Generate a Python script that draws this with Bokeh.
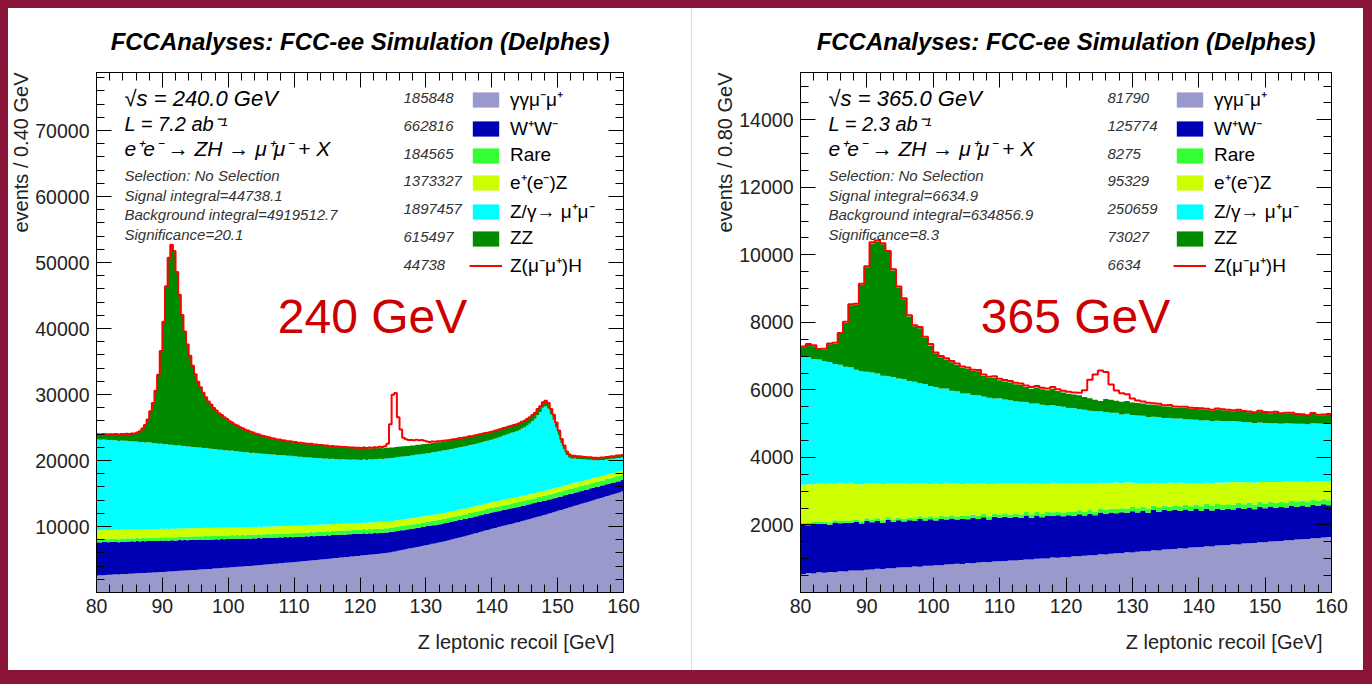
import numpy as np
from bokeh.plotting import figure
from bokeh.models import (Label, LinearAxis, SingleIntervalTicker, Range1d, Div,
                          Legend, LegendItem, PrintfTickFormatter, Title)
from bokeh.layouts import row, column
from bokeh.embed import file_html
from bokeh.resources import INLINE

# ===================== DATA =====================
X_LO, X_HI = 80.0, 160.0
BW_240 = 0.4   # GeV per bin
BW_365 = 0.8

process_labels = ["γγμ⁻μ⁺", "W⁺W⁻", "Rare", "e⁺(e⁻)Z", "Z/γ→ μ⁺μ⁻", "ZZ", "Z(μ⁻μ⁺)H"]
process_colors = ["#9999CC", "#0000B4", "#33FF33", "#CCFF00", "#00FFFF", "#008A00", "#FF0000"]

yields_240 = ["185848", "662816", "184565", "1373327", "1897457", "615497", "44738"]
yields_365 = ["81790", "125774", "8275", "95329", "250659", "73027", "6634"]

info_240 = ["√s = 240.0 GeV", "L = 7.2 ab⁻¹", "e⁺e⁻ → ZH → μ⁺μ⁻ + X",
            "Selection: No Selection", "Signal integral=44738.1",
            "Background integral=4919512.7", "Significance=20.1"]
info_365 = ["√s = 365.0 GeV", "L = 2.3 ab⁻¹", "e⁺e⁻ → ZH → μ⁺μ⁻ + X",
            "Selection: No Selection", "Signal integral=6634.9",
            "Background integral=634856.9", "Significance=8.3"]

# ---- 240 GeV, 200 bins of 0.4 GeV (events per bin) ----
gg_240 = [
    2590, 2630, 2620, 2670, 2690, 2680, 2730, 2750, 2740, 2790,
    2810, 2800, 2850, 2860, 2880, 2910, 2900, 2950, 2960, 2990,
    3000, 3030, 3040, 3080, 3100, 3120, 3150, 3170, 3190, 3230,
    3240, 3280, 3300, 3320, 3350, 3370, 3400, 3410, 3450, 3470,
    3510, 3520, 3570, 3580, 3630, 3640, 3690, 3700, 3750, 3760,
    3800, 3840, 3850, 3900, 3910, 3950, 3970, 4010, 4030, 4070,
    4100, 4140, 4170, 4200, 4240, 4280, 4300, 4350, 4370, 4420,
    4450, 4490, 4520, 4550, 4590, 4620, 4660, 4690, 4730, 4760,
    4800, 4850, 4880, 4920, 4960, 5000, 5040, 5080, 5120, 5160,
    5210, 5230, 5290, 5310, 5370, 5390, 5450, 5470, 5530, 5550,
    5600, 5650, 5670, 5720, 5750, 5790, 5830, 5880, 5910, 5960,
    6010, 6070, 6170, 6230, 6330, 6390, 6490, 6550, 6650, 6710,
    6790, 6890, 6950, 7050, 7110, 7210, 7270, 7370, 7430, 7530,
    7610, 7690, 7810, 7890, 8010, 8090, 8210, 8290, 8410, 8490,
    8590, 8720, 8810, 8940, 9030, 9160, 9250, 9380, 9470, 9600,
    9710, 9790, 9910, 9990, 10110, 10190, 10310, 10390, 10510, 10590,
    10690, 10820, 10910, 11040, 11130, 11260, 11350, 11480, 11570, 11700,
    11790, 11930, 12030, 12170, 12270, 12410, 12510, 12650, 12750, 12890,
    12990, 13130, 13230, 13370, 13470, 13610, 13710, 13850, 13950, 14090,
    14190, 14330, 14430, 14570, 14670, 14810, 14910, 15050, 15150, 15290]
ww_240 = [
    5010, 4950, 5040, 4980, 4930, 5000, 4920, 4960, 4880, 4940,
    4890, 4940, 4860, 4900, 4830, 4880, 4820, 4860, 4790, 4830,
    4810, 4760, 4790, 4720, 4770, 4700, 4740, 4670, 4710, 4660,
    4640, 4680, 4600, 4630, 4570, 4610, 4540, 4580, 4510, 4550,
    4490, 4520, 4440, 4470, 4400, 4430, 4360, 4400, 4320, 4350,
    4290, 4320, 4240, 4270, 4200, 4230, 4160, 4190, 4120, 4150,
    4090, 4120, 4040, 4070, 4000, 4030, 3960, 3990, 3920, 3950,
    3890, 3920, 3840, 3870, 3800, 3830, 3760, 3790, 3720, 3750,
    3690, 3720, 3640, 3670, 3600, 3630, 3560, 3590, 3520, 3550,
    3490, 3520, 3440, 3470, 3400, 3430, 3360, 3390, 3320, 3350,
    3290, 3320, 3240, 3270, 3200, 3230, 3160, 3190, 3120, 3150,
    3090, 3120, 3040, 3070, 3000, 3030, 2960, 2990, 2920, 2950,
    2890, 2920, 2860, 2880, 2830, 2850, 2800, 2830, 2770, 2790,
    2740, 2770, 2710, 2730, 2680, 2700, 2650, 2680, 2620, 2640,
    2590, 2620, 2560, 2580, 2530, 2550, 2500, 2530, 2470, 2490,
    2440, 2470, 2410, 2430, 2380, 2400, 2350, 2380, 2320, 2340,
    2290, 2320, 2260, 2280, 2230, 2250, 2200, 2230, 2170, 2190,
    2140, 2170, 2110, 2130, 2080, 2100, 2050, 2080, 2020, 2040,
    1990, 2020, 1960, 1980, 1930, 1950, 1900, 1930, 1870, 1890,
    1840, 1870, 1810, 1830, 1780, 1800, 1750, 1780, 1720, 1740]
rare_240 = [
    450, 460, 440, 455, 465, 450, 470, 460, 455, 470,
    470, 480, 465, 475, 485, 470, 480, 490, 475, 485,
    485, 495, 480, 490, 500, 485, 495, 505, 490, 500,
    500, 510, 495, 505, 520, 505, 515, 525, 510, 520,
    520, 530, 515, 525, 535, 520, 530, 540, 525, 535,
    535, 545, 530, 540, 555, 540, 550, 560, 545, 555,
    555, 565, 550, 560, 570, 555, 565, 575, 560, 570,
    570, 580, 565, 575, 590, 575, 585, 595, 580, 590,
    590, 600, 585, 595, 605, 590, 600, 610, 595, 605,
    605, 615, 600, 610, 625, 610, 620, 630, 615, 625,
    625, 635, 620, 630, 640, 625, 635, 645, 630, 640,
    640, 650, 635, 645, 660, 645, 655, 665, 650, 660,
    660, 670, 655, 665, 675, 660, 670, 680, 665, 675,
    675, 685, 670, 680, 695, 680, 690, 700, 685, 695,
    695, 705, 690, 700, 710, 695, 705, 715, 700, 710,
    710, 720, 705, 715, 730, 715, 725, 735, 720, 730,
    730, 740, 725, 735, 745, 730, 740, 750, 735, 745,
    745, 755, 740, 750, 765, 750, 760, 770, 755, 765,
    765, 775, 760, 770, 780, 765, 775, 785, 770, 780,
    780, 790, 775, 785, 800, 785, 795, 805, 790, 800]
eez_240 = [
    1400, 1390, 1410, 1380, 1395, 1370, 1385, 1360, 1375, 1350,
    1365, 1345, 1360, 1340, 1350, 1330, 1345, 1325, 1340, 1320,
    1330, 1310, 1325, 1300, 1315, 1295, 1310, 1290, 1305, 1285,
    1295, 1275, 1290, 1265, 1280, 1260, 1270, 1250, 1265, 1245,
    1255, 1235, 1250, 1225, 1240, 1220, 1230, 1210, 1225, 1205,
    1215, 1195, 1210, 1185, 1200, 1180, 1195, 1175, 1190, 1170,
    1180, 1160, 1175, 1150, 1165, 1145, 1160, 1140, 1155, 1135,
    1145, 1125, 1140, 1115, 1130, 1110, 1120, 1100, 1115, 1095,
    1105, 1085, 1100, 1075, 1090, 1070, 1080, 1060, 1075, 1055,
    1065, 1045, 1060, 1035, 1050, 1030, 1045, 1025, 1040, 1020,
    1030, 1010, 1025, 1000, 1015, 995, 1010, 990, 1005, 985,
    995, 975, 990, 965, 980, 960, 970, 950, 965, 945,
    955, 935, 950, 925, 940, 920, 930, 910, 925, 905,
    915, 895, 910, 885, 900, 880, 895, 875, 890, 870,
    880, 860, 875, 850, 865, 845, 860, 840, 855, 835,
    845, 825, 840, 815, 830, 810, 820, 800, 815, 795,
    805, 785, 800, 775, 790, 770, 780, 760, 775, 755,
    765, 745, 760, 735, 750, 730, 745, 725, 740, 720,
    730, 710, 725, 700, 715, 695, 710, 690, 705, 685,
    695, 675, 690, 665, 680, 660, 670, 650, 665, 645]
zg_240 = [
    13750, 13700, 13690, 13650, 13640, 13600, 13580, 13560, 13520, 13500,
    13470, 13420, 13400, 13350, 13320, 13280, 13240, 13200, 13160, 13130,
    13090, 13030, 13000, 12940, 12900, 12850, 12800, 12750, 12710, 12650,
    12610, 12560, 12510, 12470, 12420, 12370, 12320, 12270, 12230, 12180,
    12130, 12080, 12030, 11990, 11940, 11890, 11840, 11800, 11750, 11700,
    11655, 11600, 11560, 11510, 11460, 11410, 11360, 11320, 11270, 11220,
    11170, 11130, 11080, 11040, 11000, 10950, 10910, 10870, 10830, 10780,
    10740, 10690, 10640, 10600, 10550, 10500, 10450, 10400, 10360, 10310,
    10260, 10220, 10170, 10130, 10090, 10050, 10000, 9960, 9920, 9880,
    9835, 9800, 9780, 9750, 9720, 9690, 9660, 9640, 9610, 9580,
    9550, 9560, 9540, 9560, 9550, 9570, 9550, 9570, 9560, 9570,
    9570, 9560, 9550, 9540, 9530, 9530, 9520, 9510, 9500, 9490,
    9490, 9490, 9480, 9480, 9480, 9470, 9470, 9470, 9470, 9465,
    9465, 9460, 9460, 9450, 9450, 9445, 9440, 9440, 9435, 9430,
    9430, 9440, 9440, 9450, 9460, 9460, 9470, 9480, 9490, 9490,
    9500, 9550, 9610, 9670, 9730, 9780, 9840, 9900, 9960, 10010,
    10075, 10180, 10340, 10495, 10705, 10960, 11270, 11675, 12085, 12590,
    12795, 12290, 11385, 10385, 9180, 7875, 6570, 5470, 4565, 4010,
    3810, 3670, 3540, 3400, 3270, 3140, 3010, 2870, 2740, 2610,
    2480, 2430, 2370, 2320, 2270, 2220, 2160, 2110, 2060, 2000]
zz_240 = [
    750, 780, 800, 790, 830, 850, 870, 880, 920, 950,
    980, 1020, 1060, 1120, 1200, 1350, 1600, 2000, 2600, 3400,
    4720, 6060, 7900, 10440, 13980, 18520, 23860, 28300, 30240, 29380,
    26220, 22760, 19800, 17340, 15380, 13720, 12260, 11000, 9940, 9080,
    8320, 7660, 7100, 6640, 6180, 5820, 5460, 5200, 4940, 4680,
    4420, 4210, 4000, 3840, 3680, 3520, 3360, 3250, 3140, 3030,
    2920, 2800, 2730, 2650, 2560, 2510, 2420, 2370, 2300, 2260,
    2210, 2180, 2160, 2150, 2110, 2100, 2070, 2060, 2030, 2020,
    2000, 1990, 1970, 1960, 1940, 1930, 1910, 1900, 1880, 1870,
    1860, 1840, 1830, 1810, 1800, 1780, 1770, 1750, 1740, 1730,
    1720, 1710, 1700, 1690, 1680, 1670, 1660, 1650, 1640, 1630,
    1620, 1610, 1600, 1590, 1570, 1560, 1550, 1540, 1520, 1510,
    1500, 1490, 1480, 1460, 1450, 1440, 1430, 1410, 1400, 1390,
    1380, 1370, 1350, 1340, 1330, 1320, 1300, 1290, 1280, 1270,
    1260, 1250, 1240, 1220, 1210, 1200, 1190, 1170, 1160, 1150,
    1140, 1120, 1110, 1090, 1080, 1060, 1050, 1030, 1020, 1000,
    990, 970, 950, 930, 910, 890, 870, 850, 830, 810,
    800, 780, 750, 720, 690, 650, 600, 550, 500, 450,
    420, 400, 390, 380, 370, 360, 360, 350, 350, 350,
    350, 350, 340, 350, 340, 350, 340, 350, 340, 350]
zh_240 = [
    30, 35, 30, 40, 35, 30, 40, 35, 40, 35,
    40, 35, 40, 45, 40, 35, 45, 40, 40, 45,
    40, 45, 40, 45, 50, 45, 40, 45, 50, 45,
    45, 50, 45, 40, 50, 45, 50, 45, 50, 45,
    50, 45, 50, 55, 45, 50, 55, 50, 45, 50,
    50, 55, 50, 55, 50, 55, 60, 50, 55, 60,
    55, 60, 55, 60, 55, 60, 65, 55, 60, 65,
    60, 65, 60, 65, 60, 70, 65, 60, 70, 65,
    65, 70, 65, 70, 75, 65, 70, 75, 70, 75,
    70, 75, 80, 70, 75, 80, 85, 80, 85, 90,
    90, 95, 100, 110, 115, 120, 130, 150, 170, 220,
    600, 3500, 8000, 8200, 4500, 2600, 1300, 1000, 900, 850,
    800, 750, 700, 650, 500, 350, 250, 200, 170, 150,
    140, 130, 120, 110, 100, 100, 90, 90, 80, 80,
    80, 75, 75, 70, 70, 70, 65, 65, 65, 60,
    60, 60, 60, 55, 55, 55, 55, 50, 50, 50,
    50, 50, 50, 45, 45, 45, 45, 45, 45, 40,
    40, 40, 40, 40, 40, 40, 35, 35, 35, 35,
    35, 35, 35, 35, 30, 30, 30, 30, 30, 30,
    30, 30, 30, 30, 30, 30, 30, 30, 30, 30]

# ---- 365 GeV, 100 bins of 0.8 GeV ----
gg_365 = [
    540, 575, 560, 600, 585, 610, 600, 630, 625, 650,
    655, 650, 675, 680, 700, 695, 720, 715, 740, 745,
    750, 770, 765, 790, 790, 810, 805, 830, 835, 850,
    845, 870, 865, 890, 900, 895, 920, 925, 935, 950,
    950, 960, 980, 975, 1000, 1005, 1010, 1035, 1030, 1050,
    1045, 1070, 1070, 1090, 1100, 1105, 1130, 1125, 1150, 1160,
    1165, 1190, 1185, 1210, 1220, 1225, 1250, 1245, 1270, 1280,
    1285, 1310, 1305, 1330, 1340, 1345, 1370, 1365, 1390, 1400,
    1405, 1430, 1425, 1450, 1460, 1465, 1490, 1485, 1510, 1520,
    1525, 1550, 1545, 1570, 1580, 1585, 1610, 1605, 1630, 1645]
ww_365 = [
    1460, 1420, 1480, 1430, 1450, 1400, 1470, 1420, 1440, 1410,
    1430, 1390, 1450, 1400, 1420, 1370, 1430, 1380, 1400, 1360,
    1390, 1350, 1410, 1340, 1380, 1320, 1370, 1330, 1360, 1310,
    1340, 1300, 1350, 1290, 1330, 1270, 1320, 1280, 1310, 1260,
    1290, 1250, 1300, 1240, 1280, 1220, 1270, 1230, 1260, 1210,
    1240, 1200, 1250, 1190, 1230, 1180, 1240, 1200, 1220, 1190,
    1210, 1170, 1220, 1160, 1200, 1140, 1190, 1150, 1170, 1130,
    1160, 1110, 1150, 1090, 1130, 1070, 1110, 1060, 1090, 1050,
    1070, 1030, 1080, 1020, 1060, 1000, 1050, 1010, 1040, 990,
    1010, 970, 1020, 960, 1000, 950, 990, 960, 980, 940]
rare_365 = [
    60, 62, 64, 64, 66, 66, 68, 68, 70, 70,
    70, 72, 74, 74, 76, 76, 78, 78, 80, 80,
    80, 82, 84, 84, 86, 86, 88, 88, 90, 90,
    90, 92, 94, 94, 96, 96, 98, 98, 100, 100,
    100, 102, 104, 104, 106, 106, 108, 108, 110, 110,
    110, 112, 114, 114, 116, 116, 118, 118, 120, 120,
    120, 122, 124, 124, 126, 126, 128, 128, 130, 130,
    130, 132, 134, 134, 136, 136, 138, 138, 140, 140,
    140, 141, 142, 142, 143, 143, 144, 144, 145, 145,
    145, 146, 147, 147, 148, 148, 149, 149, 150, 150]
eez_365 = [
    1130, 1150, 1100, 1140, 1120, 1160, 1080, 1130, 1090, 1120,
    1060, 1090, 1030, 1080, 1040, 1070, 1000, 1060, 1010, 1050,
    1000, 1030, 970, 1020, 960, 1010, 950, 1000, 940, 990,
    940, 980, 910, 960, 900, 950, 880, 940, 890, 920,
    890, 920, 860, 900, 850, 890, 830, 880, 840, 870,
    830, 860, 800, 840, 780, 830, 760, 800, 750, 790,
    740, 780, 720, 750, 700, 740, 680, 720, 670, 710,
    670, 700, 650, 690, 640, 680, 630, 670, 640, 660,
    640, 670, 620, 650, 600, 640, 590, 630, 580, 620,
    590, 620, 570, 600, 550, 590, 540, 580, 530, 560]
zg_365 = [
    3800, 3760, 3710, 3670, 3630, 3590, 3550, 3500, 3460, 3420,
    3380, 3350, 3310, 3280, 3250, 3210, 3180, 3150, 3110, 3080,
    3045, 3010, 2970, 2940, 2900, 2860, 2830, 2790, 2750, 2720,
    2680, 2650, 2630, 2610, 2580, 2560, 2530, 2510, 2480, 2460,
    2435, 2420, 2400, 2380, 2360, 2340, 2320, 2300, 2280, 2260,
    2240, 2220, 2200, 2180, 2160, 2140, 2120, 2100, 2080, 2060,
    2040, 2030, 2010, 2000, 1990, 1970, 1960, 1950, 1930, 1920,
    1910, 1900, 1890, 1880, 1870, 1860, 1850, 1840, 1830, 1830,
    1820, 1810, 1800, 1790, 1780, 1770, 1760, 1750, 1740, 1740,
    1730, 1730, 1720, 1720, 1720, 1710, 1720, 1710, 1710, 1710]
zz_365 = [
    270, 360, 380, 275, 335, 525, 595, 910, 1300, 1840,
    1925, 2560, 3090, 3825, 3905, 3890, 3675, 3155, 2690, 2370,
    1910, 1645, 1630, 1365, 1200, 990, 925, 860, 845, 780,
    760, 735, 710, 705, 605, 580, 615, 530, 535, 530,
    500, 500, 445, 435, 475, 455, 455, 480, 450, 420,
    420, 400, 405, 375, 365, 335, 305, 390, 390, 360,
    375, 380, 370, 365, 360, 365, 350, 350, 335, 340,
    315, 315, 335, 315, 315, 335, 315, 310, 330, 320,
    305, 290, 320, 300, 295, 295, 320, 300, 295, 315,
    285, 280, 300, 270, 260, 250, 290, 240, 250, 260]
zh_365 = [
    25, 30, 25, 30, 30, 25, 30, 30, 35, 30,
    30, 35, 30, 35, 30, 35, 30, 35, 35, 30,
    35, 30, 35, 35, 40, 35, 35, 40, 35, 40,
    40, 35, 40, 40, 45, 40, 40, 45, 40, 45,
    45, 40, 45, 50, 45, 50, 50, 55, 50, 55,
    60, 60, 80, 200, 550, 750, 900, 800, 450, 300,
    250, 200, 120, 80, 60, 50, 45, 45, 40, 40,
    40, 35, 35, 35, 30, 30, 30, 30, 30, 30,
    30, 30, 25, 25, 25, 25, 25, 25, 25, 25,
    25, 25, 25, 20, 20, 20, 20, 20, 20, 20]

# ===================== LAYOUT CONSTANTS (page pixels) =====================
BORDER = "#8B1538"
PAGE_TOP = 8
PANEL_H = 662
FONT = "Liberation Sans"
TXT = "#222222"


def step_xy(edges, vals):
    xs = np.repeat(edges, 2)[1:-1]
    ys = np.repeat(np.asarray(vals, dtype=float), 2)
    return xs, ys


def build_panel(panel_x0, width, fl, fr, ft, fb, ymax, ytick, yminor, bw,
                comps, sig, ytitle, info, yields, big_text, big_xy):
    p = figure(width=width, height=PANEL_H, title=None,
               x_range=Range1d(X_LO, X_HI), y_range=Range1d(0, ymax),
               output_backend="svg", toolbar_location=None,
               min_border_left=fl - panel_x0, min_border_right=panel_x0 + width - fr,
               min_border_top=ft - PAGE_TOP, min_border_bottom=PAGE_TOP + PANEL_H - fb)
    p.background_fill_color = "white"
    p.border_fill_color = "white"
    p.outline_line_color = "black"
    p.outline_line_width = 1
    p.xgrid.visible = False
    p.ygrid.visible = False

    def to_data(px, py):
        x = X_LO + (px - fl) / (fr - fl) * (X_HI - X_LO)
        y = (fb - py) / (fb - ft) * ymax
        return x, y

    n = len(comps[0])
    edges = X_LO + bw * np.arange(n + 1)
    xs, _ = step_xy(edges, comps[0])
    cum = np.zeros(n)
    renderers = []
    for comp, col in zip(comps, process_colors[:6]):
        top = cum + np.asarray(comp, dtype=float)
        r = p.varea(x=xs, y1=np.repeat(cum, 2), y2=np.repeat(top, 2),
                    fill_color=col, fill_alpha=1.0)
        renderers.append(r)
        cum = top
    sig_top = cum + np.asarray(sig, dtype=float)
    r_sig = p.line(xs, np.repeat(sig_top, 2), line_color=process_colors[6], line_width=2)
    renderers.append(r_sig)

    # axes
    def style_axis(ax, labels=True):
        ax.major_tick_in = 15
        ax.major_tick_out = 0
        ax.minor_tick_in = 8
        ax.minor_tick_out = 0
        ax.axis_line_color = "black"
        ax.major_tick_line_color = "black"
        ax.minor_tick_line_color = "black"
        if labels:
            ax.major_label_text_font = FONT
            ax.major_label_text_font_size = "19.5px"
            ax.major_label_text_color = TXT
        else:
            ax.formatter = PrintfTickFormatter(format="")
            ax.major_label_text_font_size = "1px"
            ax.major_label_standoff = 0

    p.xaxis[0].ticker = SingleIntervalTicker(interval=10, num_minor_ticks=5)
    p.yaxis[0].ticker = SingleIntervalTicker(interval=ytick, num_minor_ticks=yminor)
    style_axis(p.xaxis[0])
    style_axis(p.yaxis[0])
    p.xaxis[0].major_label_standoff = 6
    p.yaxis[0].major_label_standoff = 7
    p.yaxis[0].major_label_overrides = {0: ""}
    ax_r = LinearAxis(ticker=SingleIntervalTicker(interval=ytick, num_minor_ticks=yminor))
    style_axis(ax_r, labels=False)
    p.add_layout(ax_r, "right")
    ax_t = LinearAxis(ticker=SingleIntervalTicker(interval=10, num_minor_ticks=5))
    style_axis(ax_t, labels=False)
    p.add_layout(ax_t, "above")

    # title and axis titles (outermost side panels)
    p.add_layout(Title(text="FCCAnalyses: FCC-ee Simulation (Delphes)", align="center",
                       text_font=FONT, text_font_size="24px", text_font_style="bold italic",
                       text_color="black", standoff=34, vertical_align="middle"), "above")
    p.add_layout(Title(text=ytitle, align="right", offset=0,
                       text_font=FONT, text_font_size="20px", text_font_style="normal",
                       text_color=TXT, standoff=0, vertical_align="middle"), "left")
    p.add_layout(Title(text="Z leptonic recoil [GeV]", align="right", offset=9,
                       text_font=FONT, text_font_size="20px", text_font_style="normal",
                       text_color=TXT, standoff=28, vertical_align="middle"), "below")

    # info block
    info_rows = [(98, "22px", "black"), (123, "20px", "black"), (148, "21px", "black"),
                 (175, "15px", "#333333"), (194.5, "15px", "#333333"),
                 (214, "15px", "#333333"), (233.5, "15px", "#333333")]
    for txt, (py, fs, col) in zip(info, info_rows):
        ix, iy = to_data(fl + 28, py)
        p.add_layout(Label(x=ix, y=iy, text=txt, text_font=FONT, text_font_size=fs,
                           text_font_style="italic", text_color=col,
                           text_align="left", text_baseline="middle"))

    # legend yields
    for i, yv in enumerate(yields):
        nx, ny = to_data(fl + 307, 97.5 + 27.8 * i)
        p.add_layout(Label(x=nx, y=ny, text=yv, text_font=FONT, text_font_size="15px",
                           text_font_style="italic", text_color="#333333",
                           text_align="left", text_baseline="middle"))

    # legend
    items = [LegendItem(label=lab, renderers=[r]) for lab, r in zip(process_labels, renderers)]
    leg = Legend(items=items, location=(373, fb - 278), orientation="vertical",
                 glyph_width=33, glyph_height=19, label_height=19, spacing=3,
                 label_standoff=8, padding=0, margin=0,
                 label_text_font=FONT, label_text_font_size="19px", label_text_color="black",
                 background_fill_alpha=0, border_line_alpha=0)
    p.add_layout(leg)

    # big energy label
    gx, gy = to_data(*big_xy)
    p.add_layout(Label(x=gx, y=gy, text=big_text, text_font=FONT, text_font_size="48px",
                       text_color="#CC0000", text_align="center", text_baseline="middle"))
    return p


p1 = build_panel(8, 683, 96, 623, 72, 592, 78800, 10000, 5, BW_240,
                 [gg_240, ww_240, rare_240, eez_240, zg_240, zz_240], zh_240,
                 "events / 0.40 GeV", info_240, yields_240, "240 GeV", (372, 316))
p2 = build_panel(692, 671, 800, 1331, 72, 592, 15400, 2000, 4, BW_365,
                 [gg_365, ww_365, rare_365, eez_365, zg_365, zz_365], zh_365,
                 "events / 0.80 GeV", info_365, yields_365, "365 GeV", (1075, 316))


def strip(w, h, color):
    return Div(text="", width=w, height=h, margin=(0, 0, 0, 0),
               styles={"background-color": color})


layout = column(
    strip(1372, 8, BORDER),
    row(strip(8, PANEL_H, BORDER), p1, strip(1, PANEL_H, "#DDDDDD"), p2,
        strip(9, PANEL_H, BORDER), spacing=0),
    strip(1372, 14, BORDER),
    spacing=0)

html = file_html(layout, INLINE, "FCC-ee Z recoil")
with open("out.html", "w") as f:
    f.write(html)
